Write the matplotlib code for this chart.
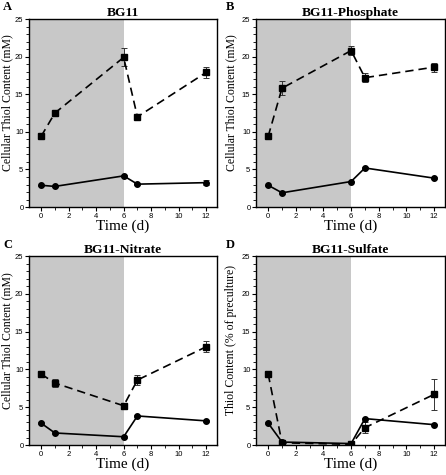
import matplotlib
matplotlib.use('Agg')
import matplotlib.pyplot as plt
from matplotlib.ticker import MultipleLocator

# sampling days
days = [0, 1, 6, 7, 12]

# panel titles, letters and y labels
titles = ['BG11', 'BG11-Phosphate', 'BG11-Nitrate', 'BG11-Sulfate']
letters = ['A', 'B', 'C', 'D']
ylabels = ['Cellular Thiol Content (mM)', 'Cellular Thiol Content (mM)',
           'Cellular Thiol Content (mM)', 'Thiol Content (% of preculture)']

# dashed series (squares) and its error bars
sq_a = [9.4, 12.5, 19.9, 12.0, 17.9]
sq_a_err = [0.2, 0.2, 1.2, 0.2, 0.7]
sq_b = [9.4, 15.8, 20.8, 17.2, 18.6]
sq_b_err = [0.2, 0.9, 0.6, 0.6, 0.6]
sq_c = [9.4, 8.2, 5.2, 8.6, 13.0]
sq_c_err = [0.2, 0.5, 0.4, 0.7, 0.7]
sq_d = [9.4, 0.3, 0.1, 2.3, 6.7]
sq_d_err = [0.2, 0.1, 0.1, 0.7, 2.1]

# solid series (circles)
ci_a = [2.9, 2.75, 4.15, 3.05, 3.25]
ci_a_err = [0.1, 0.1, 0.1, 0.1, 0.3]
ci_b = [2.9, 1.9, 3.4, 5.2, 3.85]
ci_b_err = [0.1, 0.1, 0.1, 0.1, 0.1]
ci_c = [2.9, 1.6, 1.1, 3.85, 3.2]
ci_c_err = [0.1, 0.1, 0.1, 0.1, 0.1]
ci_d = [2.9, 0.4, 0.2, 3.5, 2.7]
ci_d_err = [0.1, 0.1, 0.1, 0.1, 0.1]

squares = [(sq_a, sq_a_err), (sq_b, sq_b_err), (sq_c, sq_c_err), (sq_d, sq_d_err)]
circles = [(ci_a, ci_a_err), (ci_b, ci_b_err), (ci_c, ci_c_err), (ci_d, ci_d_err)]

serif = ['Liberation Serif', 'DejaVu Serif']
sans = ['Liberation Sans', 'DejaVu Sans']

fig = plt.figure(figsize=(4.46, 4.75), dpi=100)

# axes boxes in figure fractions
boxes = [[0.065, 0.564, 0.422, 0.396],
         [0.574, 0.564, 0.424, 0.396],
         [0.065, 0.063, 0.422, 0.398],
         [0.574, 0.063, 0.424, 0.398]]
# panel letter positions (pixels from left / top)
letter_xy = [(3, 1), (226, 1), (3, 239), (226, 239)]
# y label x position (axes fraction), left column vs right column
label_x = [-0.085, -0.10, -0.085, -0.10]

for i in range(4):
    ax = fig.add_axes(boxes[i])
    ax.set_xlim(-0.88, 12.8)
    ax.set_ylim(0, 25)
    ax.axvspan(-0.88, 6, color='#c8c8c8', lw=0, zorder=0)

    y, e = squares[i]
    ax.errorbar(days, y, yerr=e, color='black', ecolor='#333333', elinewidth=0.7,
                capsize=2, capthick=0.7, marker='s', markersize=4.5,
                linestyle=(0, (5, 3)), linewidth=1.2, zorder=3)
    y, e = circles[i]
    ax.errorbar(days, y, yerr=e, color='black', ecolor='#333333', elinewidth=0.7,
                capsize=2, capthick=0.7, marker='o', markersize=4,
                linestyle='-', linewidth=1.2, zorder=3)

    ax.xaxis.set_major_locator(MultipleLocator(2))
    ax.xaxis.set_minor_locator(MultipleLocator(1))
    ax.yaxis.set_major_locator(MultipleLocator(5))
    ax.yaxis.set_minor_locator(MultipleLocator(1))
    ax.tick_params(which='major', length=3, width=0.8, labelsize=5.5, pad=1)
    ax.tick_params(which='minor', length=2, width=0.6)
    for lab in ax.get_xticklabels() + ax.get_yticklabels():
        lab.set_family(sans)
    for s in ax.spines.values():
        s.set_linewidth(1.0)

    ax.set_title(titles[i], fontsize=9.7, fontweight='bold', family=serif, pad=2)
    ax.set_xlabel('Time (d)', fontsize=11, family=serif, labelpad=0)
    ax.set_ylabel(ylabels[i], fontsize=8.5, family=serif)
    ax.yaxis.set_label_coords(label_x[i], 0.555)
    lx, ly = letter_xy[i]
    fig.text(lx / 446, 1 - ly / 475, letters[i], fontsize=9, fontweight='bold',
             family=serif, va='top', ha='left')

fig.savefig('out.png', dpi=100)
